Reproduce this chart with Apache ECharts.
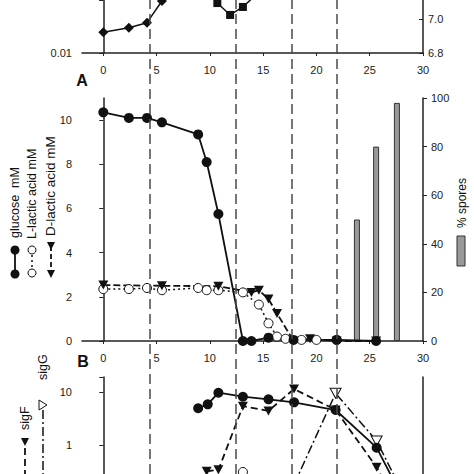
<!DOCTYPE html>
<html><head><meta charset="utf-8">
<script src="https://cdn.jsdelivr.net/npm/echarts@6/dist/echarts.min.js"></script>
<style>html,body{margin:0;padding:0;background:#fff}#c{width:474px;height:474px}</style>
</head><body><div id="c"></div>
<script>
// ---------- data ----------
const timeTicks = [0, 5, 10, 15, 20, 25, 30];
const phaseLines = [4.4, 12.45, 17.7, 21.95];

// top panel (partly visible)
const odData = [[0, 0.0246], [2.4, 0.030], [4.1, 0.0373], [5.5, 0.0957], [8.9, 0.35]];
const phData = [[9.7, 7.3], [10.7, 7.094], [11.9, 7.024], [13.1, 7.071], [13.9, 7.118], [15.5, 7.3]];
const phTicks = [6.8, 7.0];

// panel A
const glucose = [[0, 10.35], [2.4, 10.1], [4.1, 10.1], [5.5, 9.9], [8.9, 9.35], [9.7, 8.1], [10.8, 5.75],
  [13.1, 0], [13.9, 0], [15.5, 0.15], [17.85, 0.05], [21.9, 0.05], [25.6, 0]];
const lLactic = [[0, 2.35], [2.4, 2.35], [4.1, 2.4], [5.5, 2.3], [8.9, 2.4], [9.7, 2.3], [10.8, 2.3],
  [13.1, 2.2], [14.6, 1.65], [15.5, 0.8], [16.3, 0.2], [17.1, 0.1], [18.6, 0.05], [20.0, 0.05], [21.9, 0.05]];
const dLactic = [[0, 2.53], [5.5, 2.5], [10.8, 2.48], [13.9, 2.2], [14.6, 2.3], [15.5, 1.9], [16.3, 1.25],
  [17.85, 0], [19.4, 0.1], [21.9, 0], [25.6, 0]];
const spores = [[23.8, 50], [25.6, 80], [27.55, 98]];
const mMTicks = [0, 2, 4, 6, 8, 10];
const sporeTicks = [0, 20, 40, 60, 80, 100];

// panel B
const bCircles = [[8.9, 4.93], [9.8, 5.86], [10.8, 9.7], [13.1, 8.15], [15.5, 7.28], [17.9, 6.39], [21.8, 4.57], [25.65, 0.89], [27.5, 0.17]];
const sigF = [[9.7, 0.32], [10.8, 0.34], [13.1, 5.4], [15.5, 4.4], [17.9, 11.4], [21.8, 4.6], [25.65, 0.38], [27.5, 0.08]];
const sigG = [[17.9, 0.18], [21.8, 9.45], [25.65, 1.19], [27.5, 0.22]];
const bOpen = [[13.1, 0.31]];

// ---------- styling ----------
const FONT = '"Liberation Sans", Arial, sans-serif';
const INK = '#111';
const TRI = 'path://M0,0 L10,0 L5,9 Z';
const axisLine = { show: true, lineStyle: { color: '#222', width: 1.5 } };
const lbl = { color: '#222', fontSize: 11, fontFamily: FONT };
const L = 82, R = 51;

function xAx(grid, show) {
  return {
    type: 'value', gridIndex: grid, min: -2, max: 30, show: show,
    axisLine: axisLine, splitLine: { show: false },
    axisTick: { show: true, customValues: timeTicks, length: 3, lineStyle: { color: '#222' } },
    axisLabel: Object.assign({ customValues: timeTicks, margin: 11 }, lbl)
  };
}
function fmtOnly(list) {
  return function (v) {
    for (const t of list) if (Math.abs(v - t) < 1e-6 * Math.max(1, t)) return String(t);
    return '';
  };
}
function vText(x, y, text, size) {
  return { type: 'text', x: x, y: y, rotation: Math.PI / 2,
    style: { text: text, font: size + 'px ' + FONT, fill: INK, textAlign: 'left', textVerticalAlign: 'middle', align: 'left', verticalAlign: 'middle' } };
}

const option = {
  animation: false,
  backgroundColor: '#fff',
  grid: [
    { left: L, right: R, top: 0, height: 53 },
    { left: L, right: R, top: 98, height: 243 },
    { left: L, right: R, top: 377, bottom: 0 },
    { left: L, right: R, top: 0, bottom: 0 }
  ],
  xAxis: [xAx(0, true), xAx(1, true), xAx(2, false), xAx(3, false)],
  yAxis: [
    { type: 'log', logBase: 10, gridIndex: 0, min: 0.01, max: 0.1, axisLine: axisLine, splitLine: { show: false },
      axisTick: { show: true, length: 4, lineStyle: { color: '#222' } },
      axisLabel: Object.assign({ margin: 10, formatter: fmtOnly([0.01]) }, lbl) },
    { type: 'value', gridIndex: 0, position: 'right', min: 6.8, max: 7.112, axisLine: axisLine, splitLine: { show: false },
      axisTick: { show: true, inside: true, length: 4, customValues: phTicks, lineStyle: { color: '#222' } },
      axisLabel: Object.assign({ margin: 5, customValues: phTicks, formatter: v => Number(v).toFixed(1) }, lbl) },
    { type: 'value', gridIndex: 1, min: 0, max: 11, axisLine: axisLine, splitLine: { show: false },
      axisTick: { show: true, length: 4, customValues: mMTicks, lineStyle: { color: '#222' } },
      axisLabel: Object.assign({ margin: 10, customValues: mMTicks }, lbl) },
    { type: 'value', gridIndex: 1, position: 'right', min: 0, max: 100, axisLine: axisLine, splitLine: { show: false },
      axisTick: { show: true, length: 4, customValues: sporeTicks, lineStyle: { color: '#222' } },
      axisLabel: Object.assign({ margin: 8, customValues: sporeTicks }, lbl) },
    { type: 'log', logBase: 10, gridIndex: 2, min: 0.284, max: 19.19, axisLine: axisLine, splitLine: { show: false },
      axisTick: { show: true, length: 4, lineStyle: { color: '#222' } },
      axisLabel: Object.assign({ margin: 10, formatter: fmtOnly([1, 10]) }, lbl) },
    { type: 'value', gridIndex: 2, position: 'right', min: 0, max: 1, axisLine: axisLine, splitLine: { show: false },
      axisTick: { show: false }, axisLabel: { show: false } },
    { type: 'value', gridIndex: 3, min: 0, max: 1, show: false }
  ],
  series: [
    { type: 'line', xAxisIndex: 3, yAxisIndex: 6, data: [], silent: true,
      markLine: { silent: true, symbol: ['none', 'none'], label: { show: false },
        lineStyle: { color: '#4a4a4a', type: [10, 5], width: 1.5 },
        data: phaseLines.map(v => ({ xAxis: v })) } },
    // top panel
    { type: 'line', xAxisIndex: 0, yAxisIndex: 0, data: odData, symbol: 'diamond', symbolSize: 10,
      itemStyle: { color: INK }, lineStyle: { color: INK, width: 1.5 } },
    { type: 'line', xAxisIndex: 0, yAxisIndex: 1, data: phData, symbol: 'rect', symbolSize: 8,
      itemStyle: { color: INK }, lineStyle: { color: INK, width: 1.5 } },
    // panel A
    { type: 'bar', xAxisIndex: 1, yAxisIndex: 3, data: spores, barWidth: 6,
      itemStyle: { color: '#999', borderColor: '#333', borderWidth: 1 } },
    { type: 'line', xAxisIndex: 1, yAxisIndex: 2, data: lLactic, symbol: 'circle', symbolSize: 9,
      itemStyle: { color: '#fff', borderColor: INK, borderWidth: 1 }, lineStyle: { color: INK, width: 1.5, type: [2, 3] } },
    { type: 'line', xAxisIndex: 1, yAxisIndex: 2, data: dLactic, symbol: TRI, symbolSize: [10, 9],
      itemStyle: { color: INK }, lineStyle: { color: INK, width: 1.8, type: [7, 3] } },
    { type: 'line', xAxisIndex: 1, yAxisIndex: 2, data: glucose, symbol: 'circle', symbolSize: 10,
      itemStyle: { color: INK }, lineStyle: { color: INK, width: 1.8 } },
    // panel B
    { type: 'line', xAxisIndex: 2, yAxisIndex: 4, data: sigG, symbol: TRI, symbolSize: [11, 10],
      itemStyle: { color: '#fff', borderColor: INK, borderWidth: 1 }, lineStyle: { color: INK, width: 1.5, type: [9, 3, 2, 3] } },
    { type: 'line', xAxisIndex: 2, yAxisIndex: 4, data: sigF, symbol: TRI, symbolSize: [10, 9],
      itemStyle: { color: INK }, lineStyle: { color: INK, width: 1.8, type: [7, 4] } },
    { type: 'line', xAxisIndex: 2, yAxisIndex: 4, data: bCircles, symbol: 'circle', symbolSize: 10,
      itemStyle: { color: INK }, lineStyle: { color: INK, width: 1.8 } },
    { type: 'line', xAxisIndex: 2, yAxisIndex: 4, data: bOpen, symbol: 'circle', symbolSize: 9,
      itemStyle: { color: '#fff', borderColor: INK, borderWidth: 1 }, lineStyle: { width: 0 } }
  ],
  graphic: [
    { type: 'text', x: 82, y: 80, style: { text: 'A', font: 'bold 16px ' + FONT, fill: INK, textAlign: 'center', textVerticalAlign: 'middle', align: 'center', verticalAlign: 'middle' } },
    { type: 'text', x: 83, y: 361, style: { text: 'B', font: 'bold 16px ' + FONT, fill: INK, textAlign: 'center', textVerticalAlign: 'middle', align: 'center', verticalAlign: 'middle' } },
    // panel A legend (rotated)
    vText(15, 238, 'glucose\u00a0 mM', 12.5),
    vText(32, 239, 'L-lactic acid mM', 12.5),
    vText(50, 236, 'D-lactic acid mM', 13.5),
    { type: 'line', shape: { x1: 15, y1: 250, x2: 15, y2: 274 }, style: { stroke: INK, lineWidth: 1.8 } },
    { type: 'circle', shape: { cx: 15, cy: 250, r: 4.5 }, style: { fill: INK } },
    { type: 'circle', shape: { cx: 15, cy: 274, r: 4.5 }, style: { fill: INK } },
    { type: 'line', shape: { x1: 32, y1: 250, x2: 32, y2: 273 }, style: { stroke: INK, lineWidth: 1.5, lineDash: [2, 3] } },
    { type: 'circle', shape: { cx: 32, cy: 250, r: 4 }, style: { fill: '#fff', stroke: INK, lineWidth: 1 } },
    { type: 'circle', shape: { cx: 32, cy: 273, r: 4 }, style: { fill: '#fff', stroke: INK, lineWidth: 1 } },
    { type: 'line', shape: { x1: 51, y1: 246, x2: 51, y2: 273 }, style: { stroke: INK, lineWidth: 1.8, lineDash: [5, 3] } },
    { type: 'polygon', shape: { points: [[47, 242], [55, 242], [51, 250]] }, style: { fill: INK } },
    { type: 'polygon', shape: { points: [[47, 270], [55, 270], [51, 278]] }, style: { fill: INK } },
    // % spores legend
    vText(462, 228, '% spores', 12),
    { type: 'rect', shape: { x: 457, y: 236, width: 8, height: 30 }, style: { fill: '#999', stroke: '#333', lineWidth: 1 } },
    // panel B legend
    vText(43, 380, 'sigG', 12.5),
    vText(25, 430, 'sigF', 12.5),
    { type: 'line', shape: { x1: 43, y1: 410, x2: 43, y2: 480 }, style: { stroke: INK, lineWidth: 1.5, lineDash: [9, 3, 2, 3] } },
    { type: 'polygon', shape: { points: [[39, 400], [39, 410], [47, 405]] }, style: { fill: '#fff', stroke: INK, lineWidth: 1 } },
    { type: 'line', shape: { x1: 25, y1: 448, x2: 25, y2: 480 }, style: { stroke: INK, lineWidth: 1.8, lineDash: [7, 4] } },
    { type: 'polygon', shape: { points: [[21, 438], [29, 438], [25, 446]] }, style: { fill: INK } }
  ]
};

const chart = echarts.init(document.getElementById('c'), null, { renderer: 'svg', width: 474, height: 474 });
chart.setOption(option);
</script>
</body></html>
